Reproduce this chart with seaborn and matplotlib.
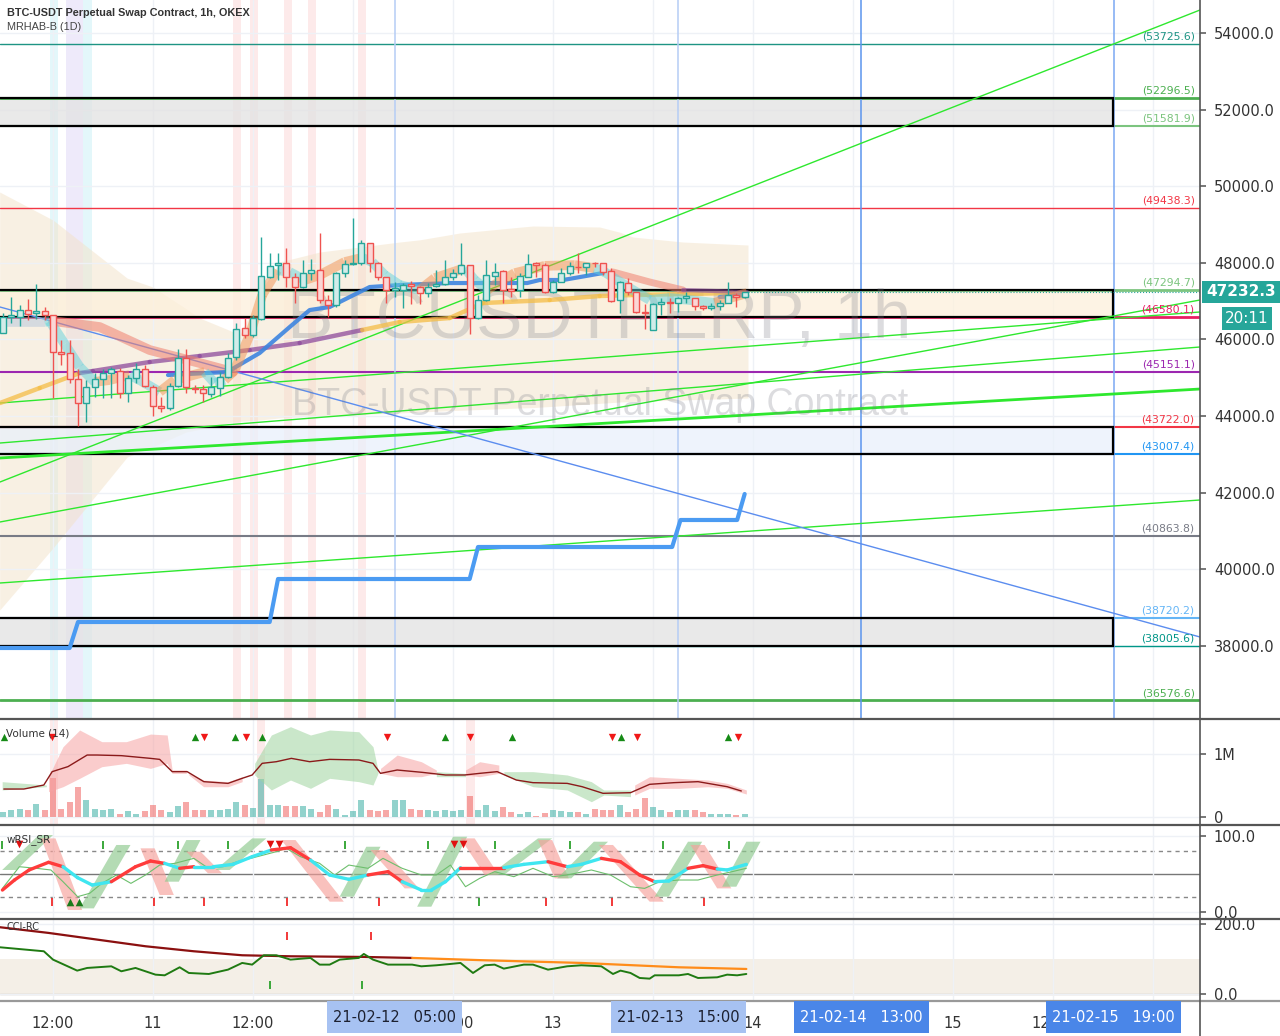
import numpy as np
import matplotlib
matplotlib.use("Agg")
import matplotlib.pyplot as plt
import seaborn as sns
from matplotlib.patches import Rectangle, Polygon
from matplotlib.lines import Line2D
from matplotlib import transforms

# ==========================================
# BTC-USDT 1h chart (hours counted from 21-02-10 00:00)
# ==========================================

# ---------------- candles ----------------
opens = [46175, 46576, 46593, 46767, 46680, 46750, 46637, 45662, 45653, 44957,
         44330, 44765, 44957, 45114, 45183, 44591, 44983, 45218, 44765, 44261,
         44200, 44783, 45505, 44739, 44696, 44574, 44722, 45027, 45531, 46288,
         46114, 46523, 47620, 47942, 48003, 47637, 47376, 47725, 47812, 47028,
         46898, 47725, 47968, 47986, 48508, 48003, 47620, 47289, 47290, 47447,
         47360, 47203, 47395, 47447, 47638, 47725, 47943, 46550, 47029, 47665,
         47786, 47308, 47290, 47638, 47986, 47943, 47247, 47508, 47725, 47900,
         47900, 48004, 47987, 47786, 47029, 47482, 47247, 46725, 46246, 46925,
         46986, 46942, 47073, 47073, 46873, 46812, 46873, 46960, 47160, 47099]
highs = [46680, 47098, 46898, 47046, 47446, 46837, 46650, 45984, 45984, 45218,
         44940, 45114, 45218, 45288, 45244, 45070, 45375, 45331, 44809, 44504,
         44853, 45740, 45740, 44809, 44809, 45027, 45157, 45636, 46419, 46550,
         46637, 48664, 48247, 48247, 48377, 47725, 48073, 48090, 48786, 47159,
         47768, 48073, 49170, 48595, 48525, 48029, 47620, 47500, 47464, 47534,
         47395, 47482, 47812, 48073, 47830, 48509, 47943, 47160, 48073, 47986,
         47812, 47638, 47725, 48230, 48030, 47986, 47551, 47856, 48030, 48248,
         48004, 48030, 48004, 47856, 47534, 47595, 47247, 46925, 46942, 47073,
         47073, 47099, 47247, 47073, 46899, 46942, 47029, 47508, 47203, 47247]
lows = [46158, 46419, 46349, 46506, 46541, 46506, 44461, 45331, 44853, 43739,
        43834, 44504, 44461, 44461, 44461, 44374, 44853, 44765, 44000, 44113,
        44156, 44765, 44609, 44591, 44374, 44504, 44522, 44983, 45462, 46027,
        46071, 46506, 47594, 47550, 47376, 46941, 47333, 47550, 46941, 46593,
        46854, 47637, 47942, 47942, 47768, 47550, 46941, 47100, 46812, 46925,
        46925, 47099, 47360, 47421, 47551, 47682, 46141, 46524, 47012, 47421,
        46942, 47099, 47099, 47638, 47638, 47221, 47203, 47508, 47682, 47725,
        47682, 47900, 47682, 46986, 46681, 47160, 46681, 46263, 46246, 46637,
        46681, 46725, 46942, 46768, 46768, 46768, 46768, 46960, 46855, 47073]
closes = [46576, 46637, 46767, 46663, 46741, 46637, 45671, 45627, 44957, 44330,
          44765, 44957, 45114, 45218, 44591, 44983, 45218, 44792, 44261, 44200,
          44783, 45505, 44765, 44696, 44591, 44765, 45027, 45505, 46262, 46114,
          46550, 47655, 47916, 48003, 47637, 47376, 47725, 47812, 47028, 46898,
          47725, 47968, 48003, 48508, 47986, 47637, 47289, 47350, 47421, 47395,
          47221, 47360, 47447, 47638, 47725, 47943, 46550, 47029, 47682, 47769,
          47290, 47273, 47656, 47960, 47943, 47247, 47508, 47725, 47917, 47882,
          47987, 47987, 47769, 47012, 47508, 47247, 46725, 46681, 46925, 46986,
          46960, 47090, 47134, 46873, 46812, 46873, 46960, 47160, 47099, 47232]
volumes = [79e3, 106e3, 132e3, 116e3, 212e3, 116e3, 624e3, 132e3, 238e3, 476e3,
           265e3, 132e3, 106e3, 132e3, 53e3, 90e3, 42e3, 95e3, 185e3, 116e3,
           79e3, 169e3, 238e3, 116e3, 106e3, 116e3, 116e3, 132e3, 238e3, 185e3,
           148e3, 608e3, 185e3, 185e3, 175e3, 175e3, 175e3, 132e3, 79e3, 185e3,
           132e3, 26e3, 95e3, 265e3, 116e3, 95e3, 116e3, 265e3, 265e3, 132e3,
           106e3, 106e3, 95e3, 116e3, 95e3, 106e3, 333e3, 116e3, 185e3, 95e3,
           159e3, 79e3, 53e3, 79e3, 16e3, 69e3, 116e3, 95e3, 79e3, 79e3,
           53e3, 132e3, 106e3, 116e3, 185e3, 79e3, 132e3, 302e3, 159e3, 116e3,
           79e3, 106e3, 106e3, 106e3, 79e3, 53e3, 42e3, 53e3, 26e3, 42e3]
first_hour = 6
last_price = 47232.3

# ---------------- levels and boxes ----------------
levels = [53725.6, 52296.5, 51581.9, 49438.3, 47294.7, 46580.1, 45151.1,
          43722.0, 43007.4, 40863.8, 38720.2, 38005.6, 36576.6]
level_colors = ["#1e9484", "#4caf50", "#7cc47f", "#f23645", "#7cc47f", "#e91e63", "#9c27b0",
                "#f23645", "#2196f3", "#787b86", "#64b5f6", "#009688", "#4caf50"]
level_widths = [1.0, 2.0, 1.5, 1.0, 2.0, 2.0, 1.5, 1.5, 1.5, 1.5, 1.5, 1.0, 2.0]
box_low = [51581.9, 46580.1, 43007.4, 38005.6]
box_high = [52296.5, 47294.7, 43722.0, 38720.2]
box_fill = ["#e2e2e2", "#fdf0dc", "#e9f0fb", "#e2e2e2"]
box_end = 139.2

# trend lines: (hour, price) start / end
trend_h0, trend_h1 = 5.64, 149.64
trend_p0 = [42277, 44340, 41233, 43295, 42904, 39640]
trend_p1 = [54601, 46716, 47029, 45802, 44705, 41807]
trend_lw = [1.0, 1.0, 1.0, 1.0, 2.0, 1.0]
diag_p0, diag_p1 = 46846, 38230

# blue step line
step_h = [5.6, 14.0, 15.0, 38.0, 39.0, 62.0, 63.0, 86.3, 87.3, 94.1, 95.0]
step_p = [37943, 37943, 38622, 38622, 39744, 39744, 40580, 40580, 41285, 41285, 41964]

# cloud band
cloud_h = [5.6, 12.0, 20.9, 24.0, 28.0, 29.6, 33.6, 34.4, 37.0, 39.2, 44.0, 53.6, 56.0,
           60.8, 68.0, 69.6, 77.6, 80.0, 81.6, 87.6, 95.4]
cloud_up = [49849, 49117, 47600, 47368, 46800, 46559, 46200, 46115, 47290, 48021, 48282, 48543, 48600,
            48778, 48930, 48961, 48935, 48800, 48674, 48543, 48465]
cloud_lo = [38934, 40553, 42929, 43200, 43582, 43650, 43843, 43860, 43900, 43950, 44000, 44080, 44104,
            44150, 44209, 44220, 44330, 44365, 44380, 44420, 44470]

# moving averages
slow_h = [5.64, 10.4, 15.2, 16.8, 23.6, 29.6, 35.6, 41.6, 49.1, 53.6, 59.6, 63.6, 71.6, 77.6, 81.6, 93.6]
slow_p = [44339, 44731, 45122, 45175, 45410, 45567, 45723, 45906, 46245, 46454, 46559, 46950,
          47029, 47133, 47159, 47211]
slow_purple = [False, False, False, True, True, True, True, True, True, False, False, False,
               False, False, False, False]
blue_h = [25.8, 32.9, 36.8, 40.4, 42.8, 45.2, 47.6, 50.0, 53.6, 59.6, 68.9, 70.4, 73.2, 78.0]
blue_p = [45070, 45149, 45645, 46323, 46767, 46846, 47107, 47368, 47420, 47472, 47472, 47551,
          47551, 47734]
blue2_h = [92.0, 95.3]
blue2_p = [47107, 47159]
salmon_h = [12.0, 17.6, 23.6, 29.6, 33.6]
salmon_p = [46480, 46323, 45723, 45384, 45149]
salmon2_h = [79.2, 83.6, 87.6]
salmon2_p = [47760, 47499, 47290]
purple2_h = [87.6, 95.3]
purple2_p = [47290, 47237]

# heikin-ashi style ribbon (g = grey-blue, c = cyan, o = orange)
ha_h = [5.6, 11.0, 11.6, 13.4, 15.2, 17.0, 18.8, 21.2, 22.4, 24.8, 26.6, 30.2, 31.4, 32.6,
        33.8, 35.6, 37.1, 38.9, 40.4, 42.2, 44.0, 47.0, 49.1, 50.3, 51.8, 53.6, 56.0, 57.8,
        61.4, 62.6, 64.1, 65.3, 67.4, 71.0, 74.6, 77.0, 78.2, 81.2, 83.6, 86.0, 88.4, 91.4,
        93.2, 95.3]
ha_p = [46455, 46455, 46480, 45880, 45280, 44890, 44940, 45070, 44940, 44630, 44940, 45150,
        44860, 44940, 45200, 46115, 47160, 47810, 47760, 47550, 47680, 48020, 48130, 48020,
        47680, 47420, 47290, 47600, 47860, 47550, 47290, 47470, 47730, 47920, 47940, 47860,
        47760, 47340, 47030, 47080, 47030, 46950, 47080, 47210]
ha_col = list("ggccccoocc" "oocc" "oooocc" "ooocccc" "oo" "cc" "ooooo" "cccccc" "oo")

# background highlight columns (start hour, end hour, colour)
hl_start = [11.6, 13.6, 15.6, 33.6, 35.6, 39.7, 42.6, 48.6]
hl_end = [12.6, 15.6, 16.7, 34.6, 36.6, 40.7, 43.6, 49.6]
hl_color = ["#e3f7fa", "#eeeafa", "#e3f7fa", "#fdeaea", "#fdeaea", "#fdeaea", "#fdeaea", "#fdeaea"]
vol_hl = [11.6, 36.5, 61.6]

# ---------------- volume indicator ----------------
vma_h = [6.1, 8.5, 10.9, 11.9, 13.8, 16.1, 17.3, 20.2, 23.7, 24.8, 26.3, 28.1, 30.1, 33.0,
         34.7, 35.9, 37.1, 38.8, 40.6, 42.8, 45.2, 48.7, 50.4, 51.3, 53.3, 56.3, 59.1, 61.4,
         63.2, 65.3, 67.6, 69.6, 73.7, 75.5, 78.0, 81.3, 83.6, 86.5, 89.4, 92.9, 94.6]
vma_v = [0.444, 0.444, 0.508, 0.72, 0.80, 0.984, 0.984, 0.974, 0.931, 0.915, 0.72, 0.72,
         0.561, 0.534, 0.614, 0.667, 0.852, 0.878, 0.931, 0.878, 0.915, 0.905, 0.852, 0.693,
         0.746, 0.709, 0.667, 0.667, 0.693, 0.720, 0.587, 0.545, 0.534, 0.481, 0.376, 0.386,
         0.519, 0.545, 0.561, 0.481, 0.413]
vb_h = [5.9, 11.2,
        11.46, 13.2, 15.2, 17.86, 20.8, 23.7, 25.7, 26.3, 28.0,
        28.3, 30.07, 33.0, 34.7,
        36.2, 38.2, 40.5, 42.9, 45.2, 48.7, 50.4, 51.0,
        51.3, 53.3, 56.2, 58.0,
        58.0, 61.5,
        61.5, 63.2, 65.5,
        66.1, 69.6, 73.7, 76.6, 78.1, 81.3,
        81.8, 83.6, 87.1, 90.6, 92.9, 95.2]
vb_up = [0.561, 0.508,
         0.640, 1.116, 1.381, 1.196, 1.196, 1.317, 1.302, 0.746, 0.746,
         0.693, 0.587, 0.561, 0.640,
         0.852, 1.302, 1.434, 1.302, 1.381, 1.354, 1.116, 0.746,
         0.772, 0.984, 0.878, 0.746,
         0.720, 0.693,
         0.746, 0.878, 0.825,
         0.720, 0.720, 0.667, 0.561, 0.429, 0.429,
         0.508, 0.640, 0.614, 0.587, 0.534, 0.429]
vb_lo = [0.429, 0.481,
         0.402, 0.481, 0.614, 0.799, 0.852, 0.772, 0.852, 0.693, 0.693,
         0.667, 0.481, 0.481, 0.561,
         0.667, 0.429, 0.587, 0.455, 0.614, 0.561, 0.508, 0.693,
         0.693, 0.640, 0.640, 0.693,
         0.640, 0.640,
         0.667, 0.640, 0.693,
         0.667, 0.481, 0.429, 0.243, 0.349, 0.323,
         0.349, 0.455, 0.455, 0.481, 0.455, 0.365]
vb_seg = [0] * 2 + [1] * 9 + [2] * 4 + [3] * 8 + [4] * 4 + [5] * 2 + [6] * 3 + [7] * 6 + [8] * 6
vb_seg_col = ["g", "p", "p", "g", "p", "g", "p", "g", "p"]
vol_up_marks = [6.1, 29.0, 33.9, 37.1, 59.0, 67.1, 80.2, 93.0]
vol_dn_marks = [11.9, 30.1, 35.2, 52.1, 62.0, 79.1, 82.1, 94.2]

# ---------------- wRSI_SR ----------------
rsi_h = [5.93, 7.38, 9.13, 11.46, 13.2, 14.95, 16.7, 19.0, 21.9, 23.7, 25.4, 27.2, 28.9, 31.2,
         33.6, 35.9, 38.2, 40.5, 42.9, 45.2, 47.5, 49.8, 52.2, 53.9, 56.2, 57.4, 59.1, 60.9,
         63.2, 66.1, 68.5, 71.4, 73.7, 75.4, 77.8, 80.1, 82.4, 84.2, 85.9, 88.2, 90.0, 91.7,
         92.9, 95.2]
rsi_v = [28.9, 42.1, 55.3, 65.4, 59.6, 45.2, 35.5, 39.9, 59.6, 67.1, 64.0, 57.5, 59.6, 59.6,
         62.7, 72.8, 81.6, 84.6, 68.4, 48.7, 43.0, 48.7, 53.1, 39.9, 28.9, 28.9, 39.9, 58.3,
         58.3, 58.3, 62.7, 66.2, 59.6, 62.7, 70.6, 66.2, 48.7, 39.9, 40.8, 57.5, 61.0, 56.6,
         55.3, 62.7]
rsi_col = list("crrrrcccrrrcrcccc" "rrcccrrcccc" "rrcc" "rcc" "rrrccrrccc")
sig_h = [5.93, 7.97, 10.0, 11.75, 13.2, 14.95, 16.4, 17.86, 19.6, 21.35, 23.1, 24.8, 26.6,
         28.9, 30.65, 32.4, 34.1, 36.5, 38.8, 40.0, 41.7, 44.0, 45.8, 47.5, 49.8, 51.6, 53.9,
         56.2, 58.0, 59.7, 61.5, 63.2, 65.0, 67.3, 69.6, 72.0, 73.7, 76.6, 78.9, 81.3, 83.0,
         84.8, 87.1, 89.4, 91.7, 93.5, 95.2]
sig_v = [31.1, 59.6, 57.5, 55.3, 39.9, 20.2, 24.6, 37.7, 48.7, 37.7, 48.7, 61.8, 64.0, 70.6,
         57.5, 59.6, 66.2, 72.8, 79.4, 83.8, 72.8, 64.0, 48.7, 61.8, 57.5, 70.6, 57.5, 48.7,
         48.7, 61.8, 33.3, 44.3, 53.1, 46.5, 57.5, 46.5, 48.7, 55.3, 48.7, 33.3, 31.1, 39.9,
         42.1, 42.1, 48.7, 53.1, 57.5]
# slanted swing bands: start hour, start value, end hour, end value
band_h0 = [5.9, 10.6, 15.2, 22.5, 25.4, 28.0, 31.5, 39.4, 46.4, 50.1, 55.7, 60.9, 64.4,
           70.2, 72.5, 77.5, 84.2, 88.5, 92.3]
band_v0 = [55.3, 96.9, 4.8, 83.8, 39.9, 79.4, 55.3, 94.7, 20.2, 81.6, 7.0, 96.9, 48.7,
           94.7, 44.3, 88.2, 20.2, 88.2, 33.3]
band_h1 = [10.3, 13.8, 19.6, 24.8, 28.0, 30.6, 35.9, 45.2, 49.6, 54.2, 60.0, 63.8, 70.2,
           72.2, 76.9, 83.6, 88.2, 91.7, 95.2]
band_v1 = [101.3, 2.6, 88.2, 22.4, 94.7, 50.9, 96.9, 13.6, 85.9, 31.1, 99.1, 48.7, 96.9,
           44.3, 92.5, 13.6, 92.5, 31.1, 92.5]
rsi_top_ticks = [5.9, 18.0, 27.0, 33.0, 47.0, 57.0, 65.0, 74.0, 85.2, 93.1]
rsi_bot_red = [11.9, 24.1, 30.1, 40.1, 51.1, 71.2, 79.1, 90.1]
rsi_bot_green = [63.1]
rsi_dn_tri = [7.9, 38.0, 39.1, 60.1, 61.2]
rsi_up_tri = [14.0, 15.1]

# ---------------- CCI-RC ----------------
cci_slow_h = [5.64, 11.46, 17.3, 23.1, 28.9, 34.7, 40.5, 49.3, 55.1, 63.8, 75.4, 87.1, 95.2]
cci_slow_v = [190.5, 174.3, 155.2, 136.2, 121.9, 110.5, 107.6, 105.7, 102.9, 96.2, 88.6, 76.2, 71.4]
cci_h = [5.64, 10.9, 12.0, 14.9, 16.1, 19.0, 20.2, 21.9, 24.3, 25.4, 27.2, 28.3, 30.7, 33.0,
         34.7, 35.9, 37.3, 38.8, 40.5, 42.9, 44.0, 45.2, 46.4, 48.7, 49.3, 50.4, 52.2, 55.1,
         56.2, 58.0, 59.7, 60.9, 62.4, 63.8, 65.0, 66.1, 68.5, 69.6, 71.4, 73.7, 75.4, 77.8,
         79.2, 80.1, 81.3, 82.4, 83.6, 84.2, 87.1, 88.2, 89.4, 91.7, 92.9, 94.1, 95.2]
cci_v = [133.3, 121.9, 98.1, 66.7, 74.3, 79.0, 64.8, 74.3, 55.2, 53.3, 76.2, 60.0, 57.1, 69.5,
         88.6, 83.8, 110.5, 110.5, 98.1, 102.9, 83.8, 83.8, 98.1, 102.9, 114.3, 98.1, 83.8, 83.8,
         79.0, 81.9, 85.7, 88.6, 60.0, 81.9, 83.8, 72.4, 83.8, 83.8, 69.5, 79.0, 81.9, 79.0,
         57.1, 66.7, 60.0, 45.7, 43.8, 53.3, 53.3, 57.1, 45.7, 47.6, 55.2, 53.3, 57.1]
cci_red_ticks = [40.1, 50.2]
cci_green_ticks = [38.0, 49.1]

# ---------------- time axis ----------------
# labels that sit fully under a date marker are left empty (hidden in the reference)
x_ticks = [12, 24, 36, 48, 60, 72, 84, 96, 108, 120, 132, 144]
x_labels = ["12:00", "11", "12:00", "", "12:00", "13", "", "14", "", "15", "12:00", ""]
marker_hours = [53, 87, 109, 139.3]
marker_text = ["21-02-12   05:00", "21-02-13   15:00", "21-02-14   13:00", "21-02-15   19:00"]
marker_dark = [False, False, True, True]

# ==========================================
# FIGURE
# ==========================================
sns.set_theme(style="white")
plt.rcParams["font.family"] = ["DejaVu Sans"]

TEAL, RED = "#26a69a", "#ef5350"
W, H = 1280, 1036
XMIN, XMAX = 5.64, 149.64

fig = plt.figure(figsize=(12.8, 10.36), dpi=100)


def frame(top, bottom):
    return [0, 1 - bottom / H, 1200 / W, (bottom - top) / H]


ax = fig.add_axes(frame(0, 719))
axv = fig.add_axes(frame(719, 825))
axr = fig.add_axes(frame(825, 919))
axc = fig.add_axes(frame(919, 1001))

for a in (ax, axv, axr, axc):
    a.set_xlim(XMIN, XMAX)
    a.set_xticks(x_ticks)
    a.grid(True, axis="x", color="#eef1f6", lw=1, zorder=0)
    for s in a.spines.values():
        s.set_visible(False)
    a.yaxis.tick_right()
    a.tick_params(axis="y", length=4, color="#666", labelsize=10.5, labelcolor="#333",
                  pad=6, direction="out")
    a.tick_params(axis="x", length=0, labelbottom=False)
    a.set_facecolor("white")

# ---------------- main panel ----------------
ax.set_ylim(36089, 54862)
ax.set_yticks(np.arange(38000, 54001, 2000))
ax.set_yticklabels([f"{v:.1f}" for v in np.arange(38000, 54001, 2000)])
ax.grid(True, axis="y", color="#eef1f6", lw=1, zorder=0)

for s, e, c in zip(hl_start, hl_end, hl_color):
    ax.axvspan(s, e, color=c, lw=0, zorder=0.1)

ax.fill_between(cloud_h, cloud_lo, cloud_up, color="#f3e2c8", alpha=0.5, lw=0, zorder=0.4)

for lvl, c, lw in zip(levels, level_colors, level_widths):
    ax.axhline(lvl, color=c, lw=lw, zorder=0.9)
    ax.text(149.0, lvl + 60, f"({lvl:.1f})", ha="right", va="bottom", fontsize=7.8, color=c,
            zorder=5)

for lo, hi, fc in zip(box_low, box_high, box_fill):
    ax.add_patch(Rectangle((XMIN - 2, lo), box_end - XMIN + 2, hi - lo, facecolor=fc,
                           alpha=0.75, edgecolor="none", zorder=0.6))
    ax.add_patch(Rectangle((XMIN - 2, lo), box_end - XMIN + 2, hi - lo, facecolor="none",
                           edgecolor="black", lw=1.6, zorder=1.1))

for h, c in zip(marker_hours, ["#b5cdf5", "#b5cdf5", "#5b95ee", "#7aa8f2"]):
    ax.axvline(h, color=c, lw=1.1, zorder=0.95)

ax.text(77.6, 46507, "BTCUSDTPERP, 1h", ha="center", va="center", fontsize=50,
        family=["Liberation Sans", "DejaVu Sans"], color="#787b86", alpha=0.26, zorder=1.5)
ax.text(77.6, 44287, "BTC-USDT Perpetual Swap Contract", ha="center", va="center", fontsize=27,
        family=["Liberation Sans", "DejaVu Sans"], color="#787b86", alpha=0.26, zorder=1.5)

for p0, p1, lw in zip(trend_p0, trend_p1, trend_lw):
    ax.plot([trend_h0, trend_h1], [p0, p1], color="#2ee82e", lw=lw, zorder=1.3)
ax.plot([trend_h0, trend_h1], [diag_p0, diag_p1], color="#5b8def", lw=1, zorder=1.3)

sns.lineplot(x=step_h, y=step_p, ax=ax, color="#4b9bf2", lw=3, sort=False, estimator=None,
             zorder=2.5)

# moving averages
for i in range(len(slow_h) - 1):
    col = "#8e4b9c" if slow_purple[i + 1] else "#f5bd45"
    ax.plot(slow_h[i:i + 2], slow_p[i:i + 2], color=col, lw=3.2, alpha=0.75,
            solid_capstyle="round", zorder=2)
sns.lineplot(x=salmon_h, y=salmon_p, ax=ax, color="#ef7f6e", lw=7, alpha=0.55,
             sort=False, estimator=None, zorder=2)
sns.lineplot(x=salmon2_h, y=salmon2_p, ax=ax, color="#ef7f6e", lw=5, alpha=0.55,
             sort=False, estimator=None, zorder=2)
sns.lineplot(x=purple2_h, y=purple2_p, ax=ax, color="#8e4b9c", lw=3, alpha=0.6,
             sort=False, estimator=None, zorder=2)
sns.lineplot(x=blue_h, y=blue_p, ax=ax, color="#3d85e0", lw=3, alpha=0.9,
             sort=False, estimator=None, zorder=2.1)
sns.lineplot(x=blue2_h, y=blue2_p, ax=ax, color="#3d85e0", lw=3, alpha=0.7,
             sort=False, estimator=None, zorder=2.1)

ha_colors = {"g": "#b4c6dc", "c": "#64d2dc", "o": "#f29250"}
for i in range(len(ha_h) - 1):
    ax.plot(ha_h[i:i + 2], ha_p[i:i + 2], color=ha_colors[ha_col[i + 1]], lw=7, alpha=0.5,
            solid_capstyle="butt", zorder=2.2)

# candles
hours = np.arange(len(opens)) + first_hour
o, c = np.array(opens), np.array(closes)
is_up = c >= o
edge = np.where(is_up, TEAL, RED)
fill = np.where(is_up, "#d2ece9", "#fbd6d5")
ax.vlines(hours, lows, highs, colors=edge, lw=1, zorder=3)
ax.bar(hours, np.maximum(np.abs(c - o), 20), bottom=np.minimum(o, c), width=0.7,
       color=fill, edgecolor=edge, lw=1, zorder=3.1)

ax.plot([hours[-1], XMAX], [last_price, last_price], color=TEAL, lw=0.8, ls=":", zorder=2)

# ---------------- volume panel ----------------
axv.set_ylim(-0.127, 1.556)
axv.set_yticks([0, 1.0])
axv.set_yticklabels(["0", "1M"])
axv.grid(True, axis="y", color="#eef1f6", lw=1, zorder=0)
for s in vol_hl:
    axv.axvspan(s, s + 1.0, color="#fdeaea", lw=0, zorder=0.1)
vol_m = np.array(volumes) / 1e6
axv.bar(hours, vol_m, width=0.7, color=np.where(is_up, TEAL, RED), alpha=0.5, lw=0, zorder=1)
seg_colors = {"g": "#9fd49f", "p": "#f6a3a3"}
vb_h_a, vb_up_a, vb_lo_a, vb_seg_a = map(np.array, (vb_h, vb_up, vb_lo, vb_seg))
for k, sc in enumerate(vb_seg_col):
    m = vb_seg_a == k
    axv.fill_between(vb_h_a[m], vb_lo_a[m], vb_up_a[m], color=seg_colors[sc], alpha=0.55,
                     lw=0, zorder=1.5)
sns.lineplot(x=vma_h, y=vma_v, ax=axv, color="#8b1a1a", lw=1, sort=False, estimator=None,
             zorder=2)
axv.scatter(vol_up_marks, [1.27] * len(vol_up_marks), marker="^", s=28, color="#168a16",
            zorder=3, lw=0)
axv.scatter(vol_dn_marks, [1.27] * len(vol_dn_marks), marker="v", s=28, color="#f01818",
            zorder=3, lw=0)
axv.text(6.4, 1.33, "Volume (14)", fontsize=7.5, color="#333", va="center", zorder=4)

# ---------------- wRSI panel ----------------
axr.set_ylim(-9.2, 114.5)
axr.set_yticks([0, 100])
axr.set_yticklabels(["0.0", "100.0"])
axr.grid(True, axis="y", color="#eef1f6", lw=1, zorder=0)
axr.axhline(80, color="#888", lw=1, ls=(0, (3, 3)), zorder=0.5)
axr.axhline(20, color="#888", lw=1, ls=(0, (3, 3)), zorder=0.5)
axr.axhline(50, color="#777", lw=1, zorder=0.5)
bw = 1.7
for h0, v0, h1, v1 in zip(band_h0, band_v0, band_h1, band_v1):
    col = "#8cc98c" if v1 > v0 else "#f6a09a"
    axr.add_patch(Polygon([(h0, v0), (h1, v1), (h1 + bw, v1), (h0 + bw, v0)], closed=True,
                          facecolor=col, alpha=0.65, lw=0, zorder=1))
sns.lineplot(x=sig_h, y=sig_v, ax=axr, color="#6dbf6d", lw=0.8, sort=False, estimator=None,
             zorder=1.5)
rsi_colors = {"r": "#ff3b3b", "c": "#3fe6f0"}
for i in range(len(rsi_h) - 1):
    axr.plot(rsi_h[i:i + 2], rsi_v[i:i + 2], color=rsi_colors[rsi_col[i + 1]], lw=2.4,
             solid_capstyle="round", zorder=2)
axr.scatter(rsi_top_ticks, [88] * len(rsi_top_ticks), marker="|", s=30, color="#1a9a1a",
            lw=1.2, zorder=3)
axr.scatter(rsi_bot_red, [13] * len(rsi_bot_red), marker="|", s=30, color="#f01818", lw=1.2,
            zorder=3)
axr.scatter(rsi_bot_green, [13] * len(rsi_bot_green), marker="|", s=30, color="#1a9a1a",
            lw=1.2, zorder=3)
axr.scatter(rsi_dn_tri, [89] * len(rsi_dn_tri), marker="v", s=30, color="#e01010", lw=0,
            zorder=3)
axr.scatter(rsi_up_tri, [13] * len(rsi_up_tri), marker="^", s=30, color="#1a7a1a", lw=0,
            zorder=3)
axr.text(6.4, 95, "wRSI_SR", fontsize=7.5, color="#333", va="center", zorder=4)

# ---------------- CCI panel ----------------
axc.set_ylim(-20, 214)
axc.set_yticks([0, 200])
axc.set_yticklabels(["0.0", "200.0"])
axc.grid(True, axis="y", color="#eef1f6", lw=1, zorder=0)
axc.axhspan(0, 100, color="#f4efe7", lw=0, zorder=0.2)
axc.axhline(0, color="#c9beb4", lw=1, zorder=0.3)
split = 8
axc.plot(cci_slow_h[:split + 1], cci_slow_v[:split + 1], color="#8b1010", lw=1.6, zorder=2)
axc.plot(cci_slow_h[split:], cci_slow_v[split:], color="#ff8c1a", lw=1.6, zorder=2)
sns.lineplot(x=cci_h, y=cci_v, ax=axc, color="#1f7a12", lw=1.4, sort=False, estimator=None,
             zorder=2.2)
axc.scatter(cci_red_ticks, [166] * 2, marker="|", s=30, color="#f01818", lw=1.2, zorder=3)
axc.scatter(cci_green_ticks, [26] * 2, marker="|", s=30, color="#1a9a1a", lw=1.2, zorder=3)
axc.text(6.4, 190, "CCI-RC", fontsize=7, color="#333", va="center", zorder=4)

axc.set_xticklabels(x_labels)
axc.tick_params(axis="x", length=4, color="#666", labelbottom=True, labelsize=10.5,
                labelcolor="#333", pad=7, direction="out")

# ---------------- date markers on time axis ----------------
trans = transforms.blended_transform_factory(axc.transData, fig.transFigure)
for h, txt, dark in zip(marker_hours, marker_text, marker_dark):
    fc = "#4a86e8" if dark else "#a7c2f2"
    tc = "white" if dark else "#1c2030"
    fig.add_artist(Rectangle((h - 8.1, 1 - 1033 / H), 16.2, 32 / H, transform=trans,
                             facecolor=fc, edgecolor="none", zorder=10))
    fig.text(h, 1 - 1017 / H, txt, transform=trans, ha="center", va="center", fontsize=10.5,
             color=tc, zorder=11)

# ---------------- separators / frame ----------------
for y in [719, 825, 919]:
    fig.add_artist(Line2D([0, 1], [1 - y / H, 1 - y / H], color="#555", lw=1.6,
                          transform=fig.transFigure, zorder=9))
fig.add_artist(Line2D([0, 1], [1 - 1001 / H, 1 - 1001 / H], color="#999", lw=1.6,
                      transform=fig.transFigure, zorder=9))
fig.add_artist(Line2D([1200 / W, 1200 / W], [0, 1], color="#555", lw=1.2,
                      transform=fig.transFigure, zorder=9))

# price tags on the right axis
fig.add_artist(Rectangle((1202 / W, 1 - 303 / H), 78 / W, 22 / H, transform=fig.transFigure,
                         facecolor=TEAL, edgecolor="none", zorder=10))
fig.text(1241 / W, 1 - 292 / H, f"{last_price:.1f}", ha="center", va="center", fontsize=11,
         color="white", weight="bold", zorder=11)
fig.add_artist(Rectangle((1222 / W, 1 - 330 / H), 50 / W, 23 / H, transform=fig.transFigure,
                         facecolor=TEAL, edgecolor="none", zorder=10))
fig.text(1247 / W, 1 - 318.5 / H, "20:11", ha="center", va="center", fontsize=11,
         color="white", zorder=11)

# titles
fig.text(7 / W, 1 - 13 / H, "BTC-USDT Perpetual Swap Contract, 1h, OKEX", fontsize=7.8,
         weight="bold", color="#333", va="center", family=["Liberation Sans", "DejaVu Sans"],
         zorder=11)
fig.text(7 / W, 1 - 27 / H, "MRHAB-B (1D)", fontsize=7.8, color="#444", va="center",
         family=["Liberation Sans", "DejaVu Sans"], zorder=11)

fig.savefig("out.png", dpi=100, facecolor="white")
